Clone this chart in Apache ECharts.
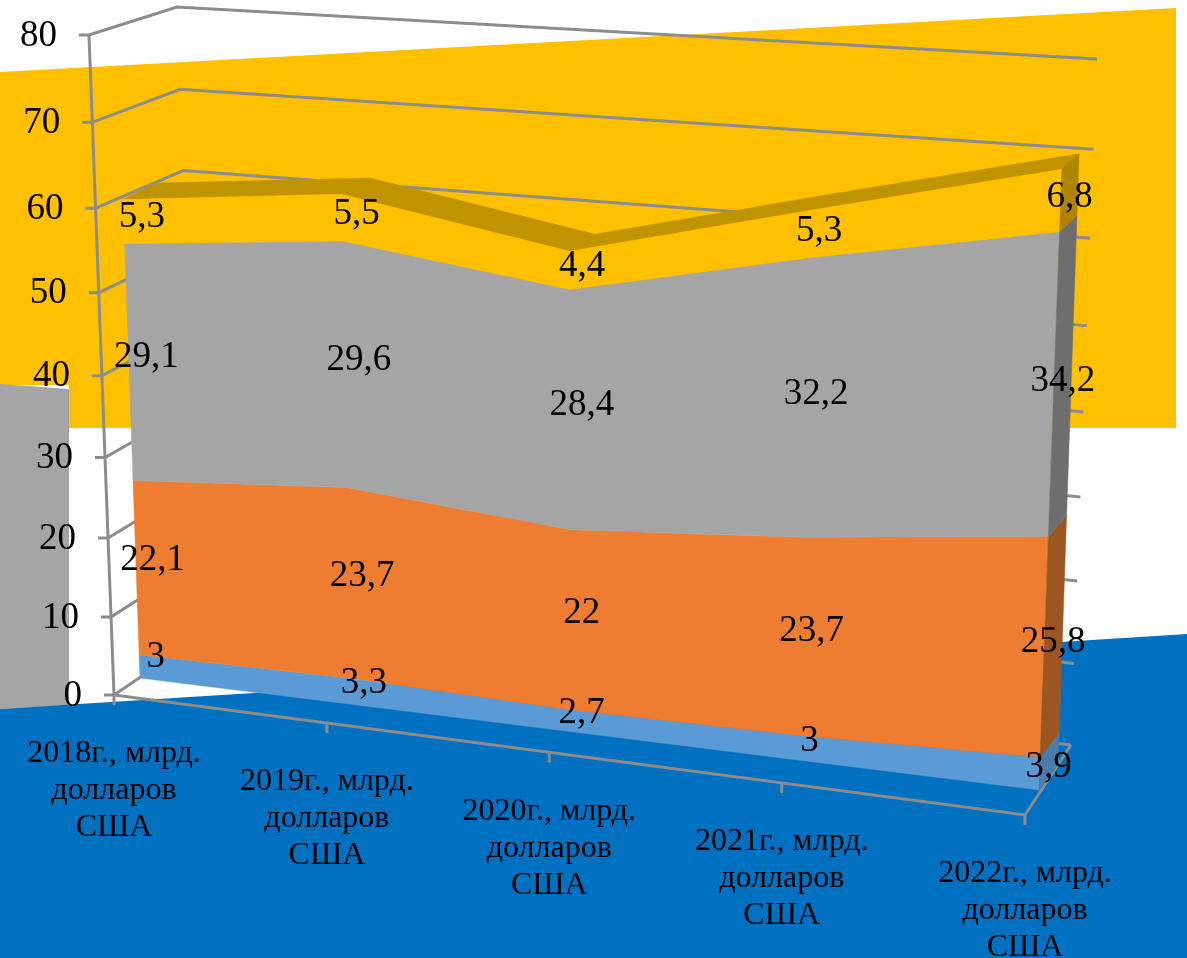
<!DOCTYPE html>
<html>
<head>
<meta charset="utf-8">
<style>html,body{margin:0;padding:0;background:#fff}#c{width:1187px;height:958px}</style>
<script src="https://cdn.jsdelivr.net/npm/echarts@6/dist/echarts.min.js"></script>
</head>
<body>
<div id="c"></div>
<script>
// ---- data ----
const categories = ['2018г., млрд.\nдолларов\nСША','2019г., млрд.\nдолларов\nСША','2020г., млрд.\nдолларов\nСША','2021г., млрд.\nдолларов\nСША','2022г., млрд.\nдолларов\nСША'];
const blueValues   = [3, 3.3, 2.7, 3, 3.9];
const orangeValues = [22.1, 23.7, 22, 23.7, 25.8];
const grayValues   = [29.1, 29.6, 28.4, 32.2, 34.2];
const yellowValues = [5.3, 5.5, 4.4, 5.3, 6.8];
const yTicks = [0, 10, 20, 30, 40, 50, 60, 70, 80];

// ---- perspective view: homographies from unit (t, v) to the page ----
function plane(p00, p10, p11, p01) { // corners (t,v): 00, 10, 11, 01
  const [x0,y0]=p00,[x1,y1]=p10,[x2,y2]=p11,[x3,y3]=p01;
  const dx1=x1-x2,dx2=x3-x2,sx=x0-x1+x2-x3,dy1=y1-y2,dy2=y3-y2,sy=y0-y1+y2-y3;
  const d=dx1*dy2-dx2*dy1;
  const g=(sx*dy2-dx2*sy)/d,h=(dx1*sy-sx*dy1)/d;
  const a=x1-x0+g*x1,b=x3-x0+h*x3,c=x0,e=y1-y0+g*y1,f=y3-y0+h*y3,k=y0;
  return (t,v)=>{const w=g*t+h*v+1;return [(a*t+b*v+c)/w,(e*t+f*v+k)/w];};
}
const frontArea = plane([140,678],[1039,790],[1065,83],[117,26]);
const backArea  = plane([173,653],[1058,765],[1082,69],[150,13]);
const labelView = plane([156,669],[1048,784],[1074,81],[136,25]);
const frontWall = plane([114,695],[1025,815],[1065,98],[89,35]);
const backWall  = plane([201,636],[1071,745],[1097,59],[177,7]);

const AXIS='#8c8c8c', SERIF='"Liberation Serif","Times New Roman",serif';
const TOTAL=categories.length-1;

function unit(params, api, cat, val){
  const c=api.coord([cat,val]), s=params.coordSys;
  return [(c[0]-s.x)/s.width,(s.y+s.height-c[1])/s.height];
}
function at(view, params, api, cat, val){
  const u=unit(params,api,cat,val); return view(u[0],u[1]);
}
const poly=(points,fill)=>({type:'polygon',shape:{points},style:{fill,stroke:fill,lineWidth:0.5}});
const line=(points)=>({type:'polyline',shape:{points},style:{fill:'none',stroke:AXIS,lineWidth:3}});
const txt=(text,x,y,align,size)=>({type:'text',x,y,style:{text,x:0,y:0,align,verticalAlign:'middle',font:size+'px '+SERIF,fill:'#000',lineHeight:37}});

function stackOf(rows){ const out=[]; let acc=categories.map(()=>0);
  rows.forEach(r=>{const low=acc.slice();acc=acc.map((a,i)=>+(a+r[i]).toFixed(2));out.push({low,high:acc.slice(),vals:r});});
  return out; }
const stacks=stackOf([blueValues,orangeValues,grayValues,yellowValues]);
const faces=[['#5B9BD5','#4A7DAB'],['#EE7D31','#9C5622'],['#A5A5A5','#6E6E6E'],['#FFC000','#AE8400']];

function layerSeries(k){
  const st=stacks[k];
  return {type:'custom',coordinateSystem:'cartesian2d',silent:true,z:3+k,
    data:categories.map((_,i)=>[i,st.high[i]]),
    renderItem(params,api){
      if(params.dataIndex!==0) return {type:'group',children:[]};
      const idx=categories.map((_,i)=>i);
      const hi=idx.map(i=>at(frontArea,params,api,i,st.high[i]));
      const lo=idx.map(i=>at(frontArea,params,api,i,st.low[i])).reverse();
      const children=[];
      if(k===3){
        const bk=idx.map(i=>at(backArea,params,api,i,st.high[i])).reverse();
        children.push(poly(hi.concat(bk),'#C09300'));
      }
      children.push(poly(hi.concat(lo),faces[k][0]));
      children.push(poly([
        at(frontArea,params,api,TOTAL,st.low[TOTAL]),
        at(frontArea,params,api,TOTAL,st.high[TOTAL]),
        at(backArea,params,api,TOTAL,st.high[TOTAL]),
        at(backArea,params,api,TOTAL,st.low[TOTAL])],faces[k][1]));
      return {type:'group',children};
    }};
}

const wallSeries={type:'custom',coordinateSystem:'cartesian2d',silent:true,z:2,
  data:yTicks.map(v=>[0,v]),
  renderItem(params,api){
    const v=yTicks[params.dataIndex];
    const a=at(frontWall,params,api,0,v),b=at(backWall,params,api,0,v),c=at(backWall,params,api,TOTAL,v);
    return {type:'group',children:[
      line([[a[0]-10,a[1]],a,b,c]),
      txt(String(v),a[0]-32,a[1]+1,'right',37)
    ]};
  }};
const frameSeries={type:'custom',coordinateSystem:'cartesian2d',silent:true,z:2,
  data:categories.map((_,i)=>[i,0]),
  renderItem(params,api){
    const i=params.dataIndex,p=at(frontWall,params,api,i,0);
    const children=[line([p,[p[0],p[1]+10]]),txt(categories[i],p[0],p[1]+96,'center',32)];
    if(i===0) children.push(
      line([at(frontWall,params,api,0,yTicks[yTicks.length-1]),p]),
      line([p,at(frontWall,params,api,TOTAL,0),at(backWall,params,api,TOTAL,0)]));
    return {type:'group',children};
  }};
const labelSeries=stacks.map(st=>({type:'custom',coordinateSystem:'cartesian2d',silent:true,z:10,
  data:categories.map((_,i)=>[i,(st.low[i]+st.high[i])/2]),
  renderItem(params,api){
    const i=params.dataIndex,m=(st.low[i]+st.high[i])/2,p=at(labelView,params,api,i,m);
    return txt(String(st.vals[i]).replace('.',','),p[0],p[1],'center',37);
  }}));

const bgShapes=[
  {pts:[[0,72],[1176,8],[1176,428],[69,428],[69,385],[0,385]],fill:'#FFC000'},
  {pts:[[0,384],[69,389],[69,705],[0,709]],fill:'#A5A5A5'},
  {pts:[[0,709],[1187,634],[1187,958],[0,958]],fill:'#0070C0'}
];

const chart=echarts.init(document.getElementById('c'));
chart.setOption({
  animation:false,
  backgroundColor:'#fff',
  grid:{left:100,right:100,top:50,bottom:50},
  xAxis:{type:'category',data:categories,boundaryGap:false,show:false},
  yAxis:{type:'value',min:0,max:80,interval:10,show:false},
  graphic:{elements:bgShapes.map(s=>({type:'polygon',z:0,silent:true,shape:{points:s.pts},style:{fill:s.fill}}))},
  series:[wallSeries,frameSeries,layerSeries(0),layerSeries(1),layerSeries(2),layerSeries(3),...labelSeries]
});
</script>
</body>
</html>
